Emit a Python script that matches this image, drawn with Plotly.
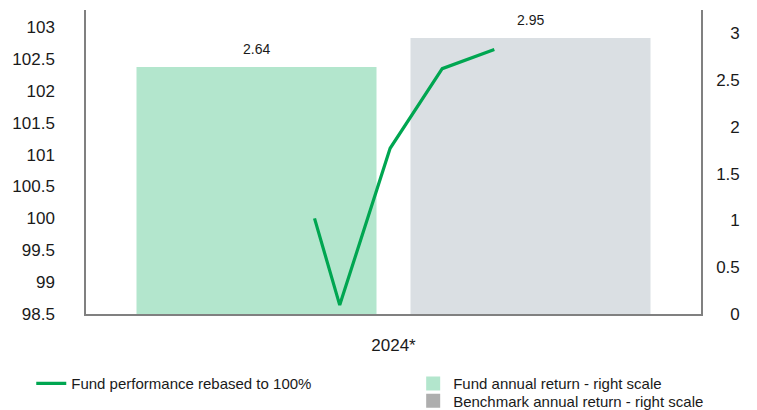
import plotly.graph_objects as go

# ---- data ----
categories = ["2024*"]
fund_return = [2.64]
benchmark_return = [2.95]
line_dates = ["2024-05-16", "2024-05-31", "2024-06-30", "2024-07-31", "2024-08-31"]
line_values = [100.0, 98.64, 101.1, 102.35, 102.65]
right_ticks = [0, 0.5, 1, 1.5, 2, 2.5, 3]
left_ticks = [98.5, 99, 99.5, 100, 100.5, 101, 101.5, 102, 102.5, 103]

LINE_COLOR = "#00A651"
FUND_COLOR = "#B3E6CD"
BENCH_COLOR = "#DADFE3"
BENCH_LEGEND = "#AEAEAE"
AXIS_COLOR = "#808080"
TEXT_COLOR = "#1a1a1a"
FONT = "Liberation Sans, Arial, sans-serif"


def fmt(v):
    return f"{v:g}"


def pad_right_label(v):
    s = fmt(v)
    # right-align labels using figure / punctuation spaces
    if "." not in s:
        s = "\u2007\u2008" + s
    return s


fig = go.Figure()

fig.add_trace(go.Bar(
    x=categories, y=fund_return, name="Fund annual return - right scale",
    marker=dict(color=FUND_COLOR, line=dict(width=0)),
    xaxis="x", yaxis="y", showlegend=False, hoverinfo="skip",
))
fig.add_trace(go.Bar(
    x=categories, y=benchmark_return, name="Benchmark annual return - right scale",
    marker=dict(color=BENCH_COLOR, line=dict(width=0)),
    xaxis="x", yaxis="y", showlegend=False, hoverinfo="skip",
))

# legend-only entries for the bars (square markers, no data)
fig.add_trace(go.Scatter(
    x=[None], y=[None], mode="markers", name="Fund annual return - right scale",
    marker=dict(color=FUND_COLOR, symbol="square", size=14),
    xaxis="x2", yaxis="y2", legend="legend2",
))
fig.add_trace(go.Scatter(
    x=[None], y=[None], mode="markers", name="Benchmark annual return - right scale",
    marker=dict(color=BENCH_LEGEND, symbol="square", size=14),
    xaxis="x2", yaxis="y2", legend="legend3",
))

fig.add_trace(go.Scatter(
    x=line_dates, y=line_values, mode="lines", name="Fund performance rebased to 100%",
    line=dict(color=LINE_COLOR, width=3.2),
    xaxis="x2", yaxis="y2", legend="legend",
))

# value labels above bars
for val, shift in [(fund_return[0], -137), (benchmark_return[0], 137)]:
    fig.add_annotation(
        x=categories[0], y=val, xref="x", yref="y", text=fmt(val),
        showarrow=False, xshift=shift, yshift=8, yanchor="bottom",
        font=dict(size=14, color=TEXT_COLOR, family=FONT),
    )

legend_common = dict(
    xanchor="left", yanchor="top", orientation="v",
    font=dict(size=15, color=TEXT_COLOR), bgcolor="rgba(0,0,0,0)",
)

fig.update_layout(
    width=757, height=410,
    margin=dict(l=86, r=56, t=10, b=96, autoexpand=False),
    paper_bgcolor="white", plot_bgcolor="white",
    font=dict(family=FONT, color=TEXT_COLOR),
    barmode="group", bargap=0.109, bargroupgap=0.124,
    xaxis=dict(
        type="category", showline=True, linecolor=AXIS_COLOR, linewidth=1.5,
        showgrid=False, ticks="", tickfont=dict(size=17), ticklabelstandoff=15,
        range=[-0.5, 0.5], fixedrange=True, automargin=False,
    ),
    xaxis2=dict(
        type="date", overlaying="x", visible=False,
        range=["2024-01-01", "2025-01-01"],
    ),
    yaxis=dict(
        side="right", range=[0, 3.25], tickvals=right_ticks,
        ticktext=[pad_right_label(v) for v in right_ticks],
        showline=True, linecolor=AXIS_COLOR, linewidth=1.5, showgrid=False,
        zeroline=False, ticks="", tickfont=dict(size=17), ticklabelstandoff=10,
        automargin=False,
    ),
    yaxis2=dict(
        side="left", overlaying="y", range=[98.5, 103.27], tickvals=left_ticks,
        ticktext=[fmt(v) for v in left_ticks],
        showline=True, linecolor=AXIS_COLOR, linewidth=1.5, showgrid=False,
        zeroline=False, ticks="", tickfont=dict(size=17), ticklabelstandoff=26,
        automargin=False,
    ),
    legend=dict(x=-0.089, y=-0.175, **legend_common),
    legend2=dict(x=0.532, y=-0.175, **legend_common),
    legend3=dict(x=0.532, y=-0.232, **legend_common),
)

fig.write_html(
    "out.html",
    config={"displayModeBar": False},
    post_script="document.body.style.margin='0';document.body.style.padding='0';",
)
